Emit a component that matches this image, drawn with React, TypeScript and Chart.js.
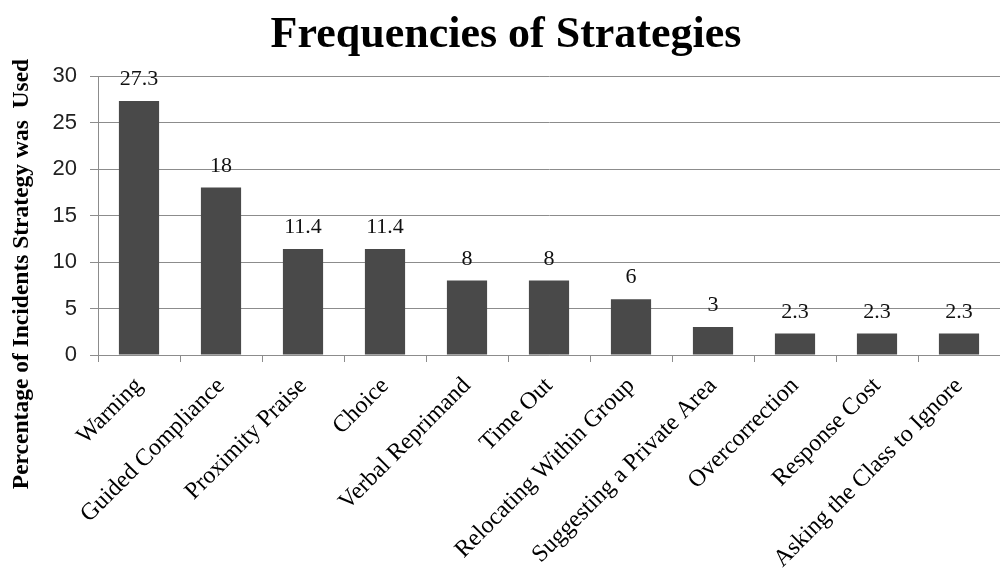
import React, { useEffect, useRef } from "react";
import { Chart, registerables } from "chart.js";

Chart.register(...registerables);

const categories = [
  "Warning",
  "Guided Compliance",
  "Proximity Praise",
  "Choice",
  "Verbal Reprimand",
  "Time Out",
  "Relocating Within Group",
  "Suggesting a Private Area",
  "Overcorrection",
  "Response Cost",
  "Asking the Class to Ignore",
];
const percentages = [27.3, 18, 11.4, 11.4, 8, 8, 6, 3, 2.3, 2.3, 2.3];
const valueLabels = ["27.3", "18", "11.4", "11.4", "8", "8", "6", "3", "2.3", "2.3", "2.3"];
const titleText = "Frequencies of Strategies";
const yTitleText = "Percentage of Incidents Strategy was  Used";

const SERIF = "'Liberation Serif', 'Times New Roman', serif";
const SANS = "'Liberation Sans', Arial, sans-serif";

export default function App() {
  const ref = useRef<HTMLCanvasElement | null>(null);

  useEffect(() => {
    const canvas = ref.current;
    if (!canvas) return;

    const labelPlugin = {
      id: "extras",
      afterDatasetsDraw(chart: any) {
        const ctx = chart.ctx;
        const meta = chart.getDatasetMeta(0);
        ctx.save();
        ctx.fillStyle = "#111";
        ctx.font = `22px ${SERIF}`;
        ctx.textAlign = "center";
        ctx.textBaseline = "alphabetic";
        meta.data.forEach((bar: any, i: number) => {
          ctx.fillText(valueLabels[i], bar.x, bar.y - 16);
        });
        ctx.restore();

        ctx.save();
        ctx.fillStyle = "#000";
        ctx.font = `bold 44px ${SERIF}`;
        ctx.textAlign = "center";
        ctx.textBaseline = "alphabetic";
        ctx.fillText(titleText, 506, 47);
        ctx.restore();

        ctx.save();
        ctx.fillStyle = "#000";
        ctx.font = `bold 23.5px ${SERIF}`;
        ctx.textAlign = "center";
        ctx.textBaseline = "alphabetic";
        ctx.translate(28, 274);
        ctx.rotate(-Math.PI / 2);
        ctx.fillText(yTitleText, 0, 0);
        ctx.restore();
      },
    };

    const chart = new Chart(canvas, {
      type: "bar",
      data: {
        labels: categories,
        datasets: [
          {
            data: percentages,
            backgroundColor: "#494949",
            borderWidth: 0,
            categoryPercentage: 1,
            barPercentage: 0.49,
          },
        ],
      },
      options: {
        responsive: false,
        animation: false,
        devicePixelRatio: 1,
        layout: { padding: { top: 76, left: 0, right: 0, bottom: 0 } },
        plugins: {
          legend: { display: false },
          tooltip: { enabled: false },
          title: { display: false },
        },
        scales: {
          x: {
            grid: {
              display: true,
              drawOnChartArea: false,
              drawTicks: true,
              tickLength: 7,
              color: "#8c8c8c",
              offset: true,
            },
            border: { display: true, color: "#8c8c8c" },
            ticks: {
              color: "#000",
              font: { family: SERIF, size: 24 },
              minRotation: 45,
              maxRotation: 45,
              autoSkip: false,
              padding: 10,
            },
            afterFit(scale: any) {
              scale.height = 219;
            },
          },
          y: {
            min: 0,
            max: 30,
            grid: {
              color: "#8c8c8c",
              tickLength: 8,
              drawTicks: true,
            },
            border: { display: true, color: "#8c8c8c" },
            ticks: {
              stepSize: 5,
              color: "#222",
              font: { family: SANS, size: 22 },
              padding: 13,
            },
            afterFit(scale: any) {
              scale.width = 98;
            },
          },
        },
      },
      plugins: [labelPlugin],
    });

    return () => chart.destroy();
  }, []);

  return (
    <div style={{ position: "fixed", left: 0, top: 0, width: 1000, height: 574, background: "#fff" }}>
      <canvas ref={ref} width={1000} height={574} style={{ width: 1000, height: 574, display: "block" }} />
    </div>
  );
}
